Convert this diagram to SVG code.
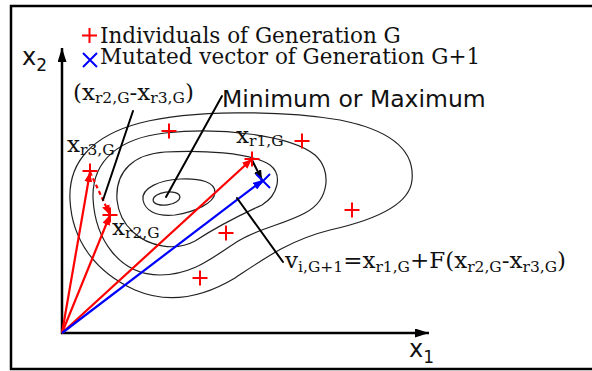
<svg xmlns="http://www.w3.org/2000/svg" width="592" height="371" viewBox="0 0 592 371">
<style>
.ser{font-family:"DejaVu Serif","Liberation Serif",serif;fill:#111}
.san{font-family:"DejaVu Sans","Liberation Sans",sans-serif;fill:#111}
.m{font-size:23px}
.s{font-size:15.5px}
.leg{font-size:21.5px}
.ct{fill:none;stroke:#222;stroke-width:1.2}
.rp{stroke:#f00;stroke-width:2;fill:none}
.bx{stroke:#00f;stroke-width:2;fill:none}
.rv{stroke:#f00;stroke-width:2.2;fill:none}
.bv{stroke:#00f;stroke-width:2.2;fill:none}
.pt{stroke:#000;stroke-width:2;fill:none;stroke-linecap:round}
.ax{stroke:#000;stroke-width:2.5;fill:none}
</style>
<defs>
<marker id="ar" markerUnits="userSpaceOnUse" markerWidth="12" markerHeight="10" refX="10" refY="4" orient="auto"><path d="M0,0 L10,4 L0,8 Z" fill="#f00"/></marker>
<marker id="ab" markerUnits="userSpaceOnUse" markerWidth="12" markerHeight="10" refX="10" refY="4" orient="auto"><path d="M0,0 L10,4 L0,8 Z" fill="#00f"/></marker>
<marker id="ak" markerUnits="userSpaceOnUse" markerWidth="12" markerHeight="10" refX="10" refY="4" orient="auto"><path d="M0,0 L10,4 L0,8 Z" fill="#000"/></marker>
<marker id="aa" markerUnits="userSpaceOnUse" markerWidth="16" markerHeight="10" refX="14" refY="4.5" orient="auto"><path d="M0,0 L14,4.5 L0,9 Z" fill="#000"/></marker>
<path id="plus" d="M-7.5,0 H7.5 M0,-7.5 V7.5"/>
<path id="cross" d="M-7,-7 L7,7 M-7,7 L7,-7"/>
</defs>
<rect x="11" y="6" width="600" height="363" fill="#fff" stroke="#000" stroke-width="2.5"/>

<g id="contours">
<ellipse class="ct" cx="166.5" cy="198.5" rx="13.5" ry="6.5" transform="rotate(-8 166.5 198.5)"/>
<path class="ct" d="M143,200 C141,188 160,180 180,179 C200,178 216,182 215,193 C214,203 195,212 175,215 C155,217 145,210 143,200 Z"/>
<path class="ct" d="M117,200 C115,170 135,154 165,152 C200,150 250,152 270,165 C283,175 278,195 262,205 C240,215 215,228 195,241 C175,252 148,246 133,232 C122,222 118,210 117,200 Z"/>
<path class="ct" d="M93,198 C92,160 120,138 165,133 C220,127 290,135 315,155 C332,170 330,200 305,213 C285,224 260,228 240,240 C215,255 195,275 160,275 C120,275 95,240 93,198 Z"/>
<path class="ct" d="M70,200 C68,160 95,135 140,123 C190,110 280,110 340,120 C390,130 415,150 412,180 C410,205 375,220 330,230 C290,240 265,258 235,278 C205,296 170,305 135,290 C95,272 72,240 70,200 Z"/>
</g>

<g id="axes">
<line class="ax" x1="62" y1="334" x2="62" y2="48" marker-end="url(#aa)"/>
<line class="ax" x1="61" y1="333" x2="429" y2="333" marker-end="url(#aa)"/>
<text class="san" x="22" y="65" font-size="24">x<tspan font-size="17" dy="6">2</tspan></text>
<text class="san" x="409" y="357" font-size="24">x<tspan font-size="17" dy="6">1</tspan></text>
</g>

<g id="legend">
<use href="#plus" class="rp" x="89.5" y="35.5"/>
<text class="ser leg" x="100" y="43">Individuals of Generation G</text>
<use href="#cross" class="bx" x="90" y="60"/>
<text class="ser leg" x="100" y="64">Mutated vector of Generation G+1</text>
</g>

<g id="connectors">
<line class="rv" x1="62" y1="333" x2="90" y2="172" marker-end="url(#ar)"/>
<line class="rv" x1="62" y1="333" x2="110" y2="215" marker-end="url(#ar)"/>
<line class="rv" x1="62" y1="333" x2="252" y2="159" marker-end="url(#ar)"/>
<line class="bv" x1="62" y1="333" x2="263" y2="180" marker-end="url(#ab)"/>
<line class="rv" x1="90" y1="172" x2="110" y2="215" stroke-dasharray="4,3" marker-end="url(#ar)"/>
<line class="pt" x1="252" y1="160" x2="262" y2="180" stroke-width="1.8" marker-end="url(#ak)"/>
<line class="pt" x1="222" y1="96" x2="166" y2="197"/>
<line class="pt" x1="133" y1="111" x2="103" y2="200"/>
<line class="pt" x1="237" y1="198" x2="283" y2="262"/>
</g>

<g id="xr3"><use href="#plus" class="rp" x="90" y="171"/><text class="ser m" x="67" y="152">x<tspan class="s" dy="3">r3,G</tspan></text></g>
<g id="xr2"><use href="#plus" class="rp" x="110" y="215"/><text class="ser m" x="112" y="235">x<tspan class="s" dy="3">r2,G</tspan></text></g>
<g id="xr1"><use href="#plus" class="rp" x="252" y="159"/><text class="ser m" x="236" y="143">x<tspan class="s" dy="3">r1,G</tspan></text></g>
<g id="p1"><use href="#plus" class="rp" x="169" y="131"/></g>
<g id="p2"><use href="#plus" class="rp" x="302" y="141"/></g>
<g id="p3"><use href="#plus" class="rp" x="352" y="210"/></g>
<g id="p4"><use href="#plus" class="rp" x="226" y="233"/></g>
<g id="p5"><use href="#plus" class="rp" x="200" y="278"/></g>
<g id="vi"><use href="#cross" class="bx" x="263" y="181"/></g>

<g id="diff-label"><text class="ser m" x="73" y="100">(x<tspan class="s" dy="3">r2,G</tspan><tspan dy="-3">-x</tspan><tspan class="s" dy="3">r3,G</tspan><tspan dy="-3">)</tspan></text></g>
<g id="minmax-label"><text class="san" x="222" y="107" font-size="23.5">Minimum or Maximum</text></g>
<g id="formula-label"><text class="ser m" x="285" y="268">v<tspan class="s" dy="4">i,G+1</tspan><tspan dy="-4">=x</tspan><tspan class="s" dy="4">r1,G</tspan><tspan dy="-4">+F(x</tspan><tspan class="s" dy="4">r2,G</tspan><tspan dy="-4">-x</tspan><tspan class="s" dy="4">r3,G</tspan><tspan dy="-4">)</tspan></text></g>
</svg>
